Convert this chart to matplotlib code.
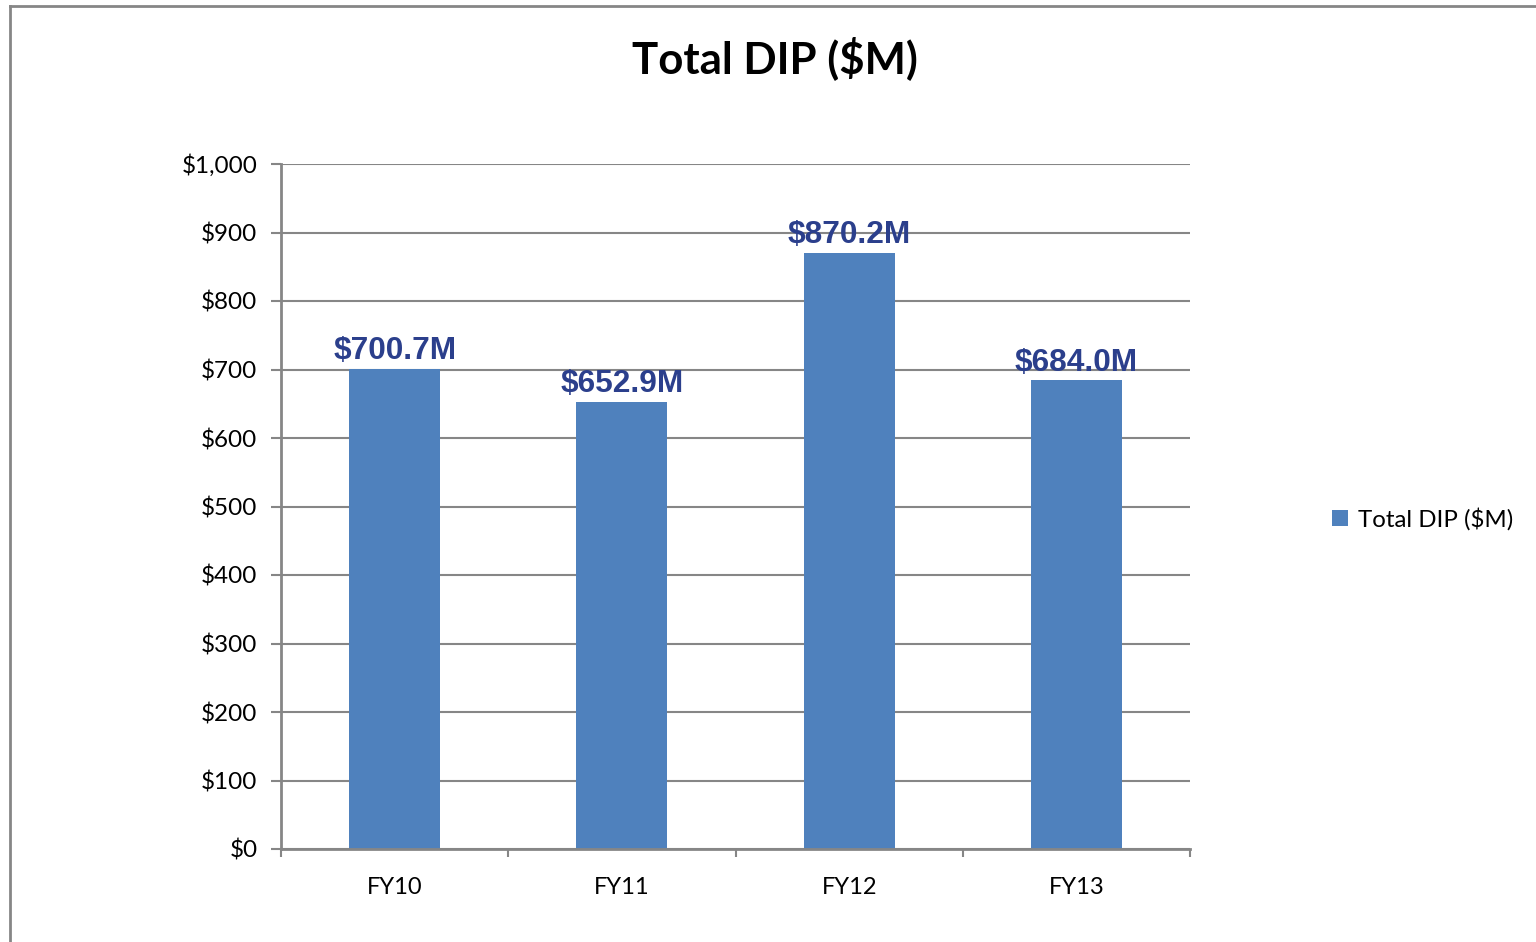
import matplotlib
matplotlib.use("Agg")
import matplotlib.pyplot as plt
from matplotlib.lines import Line2D
from matplotlib.patches import Patch

categories = ["FY10", "FY11", "FY12", "FY13"]
values = [700.7, 652.9, 870.2, 684.0]
labels = ["$700.7M", "$652.9M", "$870.2M", "$684.0M"]
yticks = [0, 100, 200, 300, 400, 500, 600, 700, 800, 900, 1000]
ytick_labels = ["$0", "$100", "$200", "$300", "$400", "$500", "$600", "$700", "$800", "$900", "$1,000"]

W, H = 1536, 942
fig = plt.figure(figsize=(W / 100, H / 100), dpi=100)
ax = fig.add_axes([281 / W, 1 - 849 / H, (1190 - 281) / W, (849 - 164) / H])

grey = "#868686"
bar_color = "#4F81BD"
label_color = "#2B3F8C"
font = "Lato"

x = list(range(len(categories)))
ax.bar(x, values, width=0.4, color=bar_color, zorder=3)
for xi, v, lab in zip(x, values, labels):
    ax.annotate(lab, (xi, v), xytext=(0, 2), textcoords="offset points",
                ha="center", va="bottom", fontsize=22.8, fontweight="bold",
                color=label_color, family="Liberation Sans", zorder=4)

ax.set_xlim(-0.5, len(categories) - 0.5)
ax.set_ylim(0, 1000)
ax.set_yticks(yticks)
ax.set_yticklabels(ytick_labels, fontsize=17.5, family=font)
ax.set_xticks(x)
ax.set_xticklabels(categories, fontsize=17, family=font)
ax.tick_params(axis="x", length=0, pad=20)
ax.set_xticks([i - 0.5 for i in range(len(categories) + 1)], minor=True)
ax.tick_params(axis="x", which="minor", length=6, width=1.5, color=grey, direction="out")
ax.tick_params(axis="y", length=7, width=1.5, color=grey, direction="out", pad=10)
ax.grid(axis="y", color=grey, linewidth=1.5, zorder=0)
for s in ["top", "right"]:
    ax.spines[s].set_visible(False)
for s in ["left", "bottom"]:
    ax.spines[s].set_color(grey)
    ax.spines[s].set_linewidth(2)
    ax.spines[s].set_zorder(5)

fig.text(775 / W, 1 - 58 / H, "Total DIP ($M)", ha="center", va="center",
         fontsize=31.5, fontweight="bold", family=font)

handle = Patch(facecolor=bar_color, edgecolor="none")
fig.legend([handle], ["Total DIP ($M)"], loc="center left",
           bbox_to_anchor=(1310 / W, 1 - 519 / H), frameon=False,
           prop={"family": font, "size": 17.3}, handlelength=0.7, handleheight=0.7,
           handletextpad=0.4)

fig.add_artist(Line2D([10 / W, 10 / W], [0, 1 - 6 / H], color=grey, linewidth=2, transform=fig.transFigure))
fig.add_artist(Line2D([10 / W, 1], [1 - 6 / H, 1 - 6 / H], color=grey, linewidth=2, transform=fig.transFigure))

fig.savefig("out.png", dpi=100)
